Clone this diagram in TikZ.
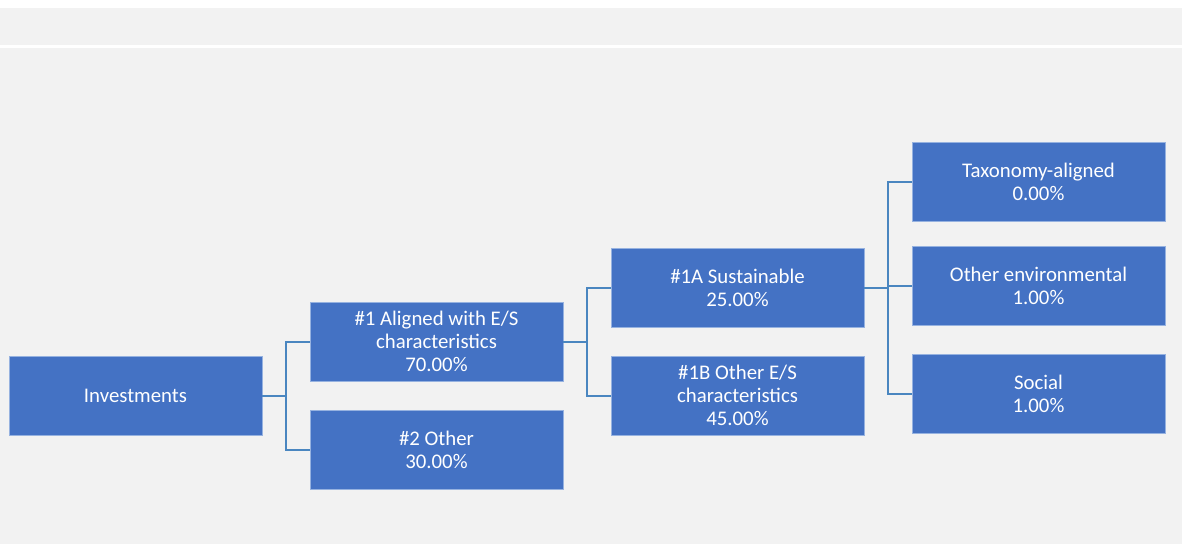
\documentclass[tikz,border=0pt]{standalone}
\usepackage{fontspec}
\setmainfont{Carlito}
\usetikzlibrary{positioning}
\definecolor{boxblue}{RGB}{68,114,196}
\definecolor{boxedge}{RGB}{150,178,224}
\definecolor{linkblue}{RGB}{74,134,192}
\definecolor{bggray}{RGB}{242,242,242}

\begin{document}
\begin{tikzpicture}[x=1pt, y=-1pt,
        category/.style={rectangle, draw=boxedge, line width=0.8pt, fill=boxblue, text=white, align=center,
            minimum width=253pt, minimum height=79pt, inner sep=0pt, outer sep=0pt,
            font=\fontsize{20.8}{23}\selectfont},
        link/.style={draw=linkblue, line width=2pt}
    ]
    % page background
    \useasboundingbox (0,0) rectangle (1182,544);
    \fill[white] (0,0) rectangle (1182,544);
    \fill[bggray] (0,8) rectangle (1182,45);
    \fill[bggray] (0,48) rectangle (1182,544);

    \node[category] (inv) at (135.5,395.5) {Investments};
    \node[category, right=48pt of inv, yshift=54pt] (aligned) {\#1 Aligned with E/S\\characteristics\\70.00\%};
    \node[category, below=29pt of aligned] (other) {\#2 Other\\30.00\%};
    \node[category, right=48pt of aligned, yshift=54pt] (sust) {\#1A Sustainable\\25.00\%};
    \node[category, below=29pt of sust] (otheres) {\#1B Other E/S\\characteristics\\45.00\%};
    \node[category, right=48pt of sust, yshift=106pt] (taxo) {Taxonomy-aligned\\0.00\%};
    \node[category, below=25pt of taxo] (env) {Other environmental\\1.00\%};
    \node[category, below=29pt of env] (social) {Social\\1.00\%};

    \coordinate[right=24pt of inv.east] (j1);
    \coordinate[right=24pt of aligned.east] (j2);
    \coordinate[right=24pt of sust.east] (j3);

    \draw[link] (inv.east) -- (j1) |- (aligned.west);
    \draw[link] (j1) |- (other.west);
    \draw[link] (aligned.east) -- (j2) |- (sust.west);
    \draw[link] (j2) |- (otheres.west);
    \draw[link] (sust.east) -- (j3) |- (taxo.west);
    \draw[link] (j3) |- (env.west);
    \draw[link] (j3) |- (social.west);
\end{tikzpicture}
\end{document}
